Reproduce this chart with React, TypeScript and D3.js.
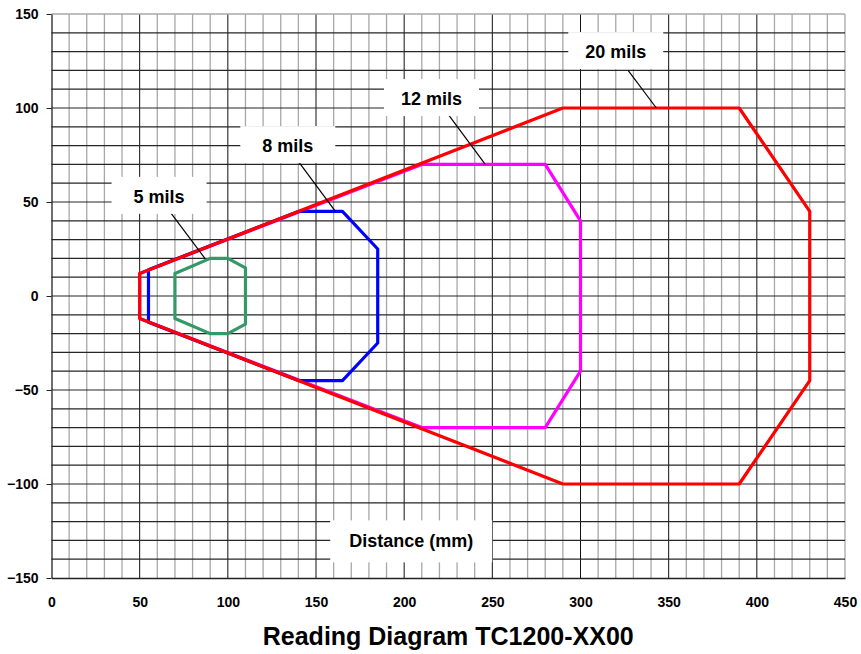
import { useEffect, useRef } from 'react'
import * as d3 from 'd3'

// reading zone outlines, [distance mm, width mm]
const zone20 = [[50, 12], [290, 100], [390, 100], [430, 45], [430, -45], [390, -100], [290, -100], [50, -12]]
const zone12 = [[50, 12], [210, 70], [280, 70], [300, 40], [300, -40], [280, -70], [210, -70], [50, -12]]
const zone8 = [[55, 14], [140, 45], [165, 45], [185, 25], [185, -25], [165, -45], [140, -45], [55, -14]]
const zone5 = [[70, 12], [90, 20], [100, 20], [110, 15], [110, -15], [100, -20], [90, -20], [70, -12]]

const series = [
  { name: '12 mils', points: zone12, color: '#ff00ff' },
  { name: '8 mils', points: zone8, color: '#0000ff' },
  { name: '5 mils', points: zone5, color: '#339966' },
  { name: '20 mils', points: zone20, color: '#ff0000' },
]

// callouts: label centre and the point the leader touches
const callouts = [
  { text: '20 mils', at: [320, 130], to: [343, 100], from: [327, 120] },
  { text: '12 mils', at: [215.5, 105], to: [246, 70], from: [225.5, 96] },
  { text: '8 mils', at: [134, 80], to: [161, 45], from: [140.5, 71] },
  { text: '5 mils', at: [61, 53], to: [87, 20], from: [67, 45] },
]

const xTicks = [0, 50, 100, 150, 200, 250, 300, 350, 400, 450]
const yTicks = [-150, -100, -50, 0, 50, 100, 150]

export default function App() {
  const svgRef = useRef<SVGSVGElement>(null)

  useEffect(() => {
    if (!svgRef.current) return
    const svg = d3.select(svgRef.current)
    svg.selectAll('*').remove()

    const W = 861
    const H = 654
    const margin = { top: 14, right: 16, bottom: 76, left: 51.5 }
    const width = W - margin.left - margin.right
    const height = H - margin.top - margin.bottom
    const font = "'Liberation Sans', Arial, sans-serif"

    svg.attr('width', W).attr('height', H)
    svg.append('rect').attr('width', W).attr('height', H).attr('fill', '#fff')

    const g = svg.append('g').attr('transform', `translate(${margin.left},${margin.top})`)

    const x = d3.scaleLinear().domain([0, 450]).range([0, width])
    const y = d3.scaleLinear().domain([-150, 150]).range([height, 0])

    // vertical grid
    g.append('g')
      .selectAll('line')
      .data(d3.range(10, 451, 10))
      .enter().append('line')
      .attr('x1', d => x(d)).attr('x2', d => x(d))
      .attr('y1', 0).attr('y2', height)
      .attr('stroke', d => (d % 50 === 0 && d < 450 ? '#111' : '#a8a8a8'))
      .attr('stroke-width', d => (d % 50 === 0 && d < 450 ? 1 : 1.3))

    // horizontal grid
    g.append('g')
      .selectAll('line')
      .data(d3.range(-140, 151, 10))
      .enter().append('line')
      .attr('x1', 0).attr('x2', width)
      .attr('y1', d => y(d)).attr('y2', d => y(d))
      .attr('stroke', d => (d === 150 ? '#a8a8a8' : '#262626'))
      .attr('stroke-width', d => (d === 150 ? 1.3 : 1.2))

    // axes
    const yAxis = g.append('g')
      .call(d3.axisLeft(y).tickValues(yTicks).tickSize(5).tickSizeOuter(0).tickPadding(8))
    yAxis.select('.domain').attr('stroke', '#222').attr('stroke-width', 1.3)
    yAxis.selectAll('line').attr('stroke', '#222')
    yAxis.selectAll('text').style('font-family', font).style('font-size', '14px').style('font-weight', 'bold').attr('fill', '#000')

    const xAxis = g.append('g')
      .attr('transform', `translate(0,${height})`)
      .call(d3.axisBottom(x).tickValues(xTicks).tickSize(0).tickSizeOuter(0).tickPadding(19))
    xAxis.select('.domain').attr('stroke', '#222').attr('stroke-width', 1.3)
    xAxis.selectAll('text').style('font-family', font).style('font-size', '14px').style('font-weight', 'bold').attr('fill', '#000')

    // zones
    const line = d3.line<number[]>()
      .x(d => x(d[0]))
      .y(d => y(d[1]))
      .curve(d3.curveLinearClosed)

    series.forEach(s => {
      g.append('path')
        .datum(s.points)
        .attr('d', line)
        .attr('fill', 'none')
        .attr('stroke', s.color)
        .attr('stroke-width', 3.2)
        .attr('stroke-linejoin', 'round')
    })

    // callouts
    callouts.forEach(c => {
      g.append('line')
        .attr('x1', x(c.from[0])).attr('y1', y(c.from[1]))
        .attr('x2', x(c.to[0])).attr('y2', y(c.to[1]))
        .attr('stroke', '#000').attr('stroke-width', 1.2)
      const bw = 95
      const bh = 37
      g.append('rect')
        .attr('x', x(c.at[0]) - bw / 2).attr('y', y(c.at[1]) - bh / 2 - 1)
        .attr('width', bw).attr('height', bh)
        .attr('fill', '#fff')
      g.append('text')
        .attr('x', x(c.at[0])).attr('y', y(c.at[1]))
        .attr('dy', '0.35em')
        .attr('text-anchor', 'middle')
        .style('font-family', font).style('font-size', '18px').style('font-weight', 'bold')
        .text(c.text)
    })

    // axis title box inside plot
    const tx = x(204)
    const ty = y(-130)
    g.append('rect')
      .attr('x', tx - 81).attr('y', ty - 20)
      .attr('width', 162).attr('height', 42)
      .attr('fill', '#fff')
    g.append('text')
      .attr('x', tx).attr('y', ty)
      .attr('dy', '0.35em')
      .attr('text-anchor', 'middle')
      .style('font-family', font).style('font-size', '18px').style('font-weight', 'bold')
      .text('Distance (mm)')

    svg.append('text')
      .attr('x', margin.left + width / 2)
      .attr('y', 645)
      .attr('text-anchor', 'middle')
      .style('font-family', font).style('font-size', '25px').style('font-weight', 'bold')
      .text('Reading Diagram TC1200-XX00')
  }, [])

  return (
    <svg ref={svgRef} style={{ position: 'absolute', left: 0, top: 0, display: 'block' }}></svg>
  )
}
